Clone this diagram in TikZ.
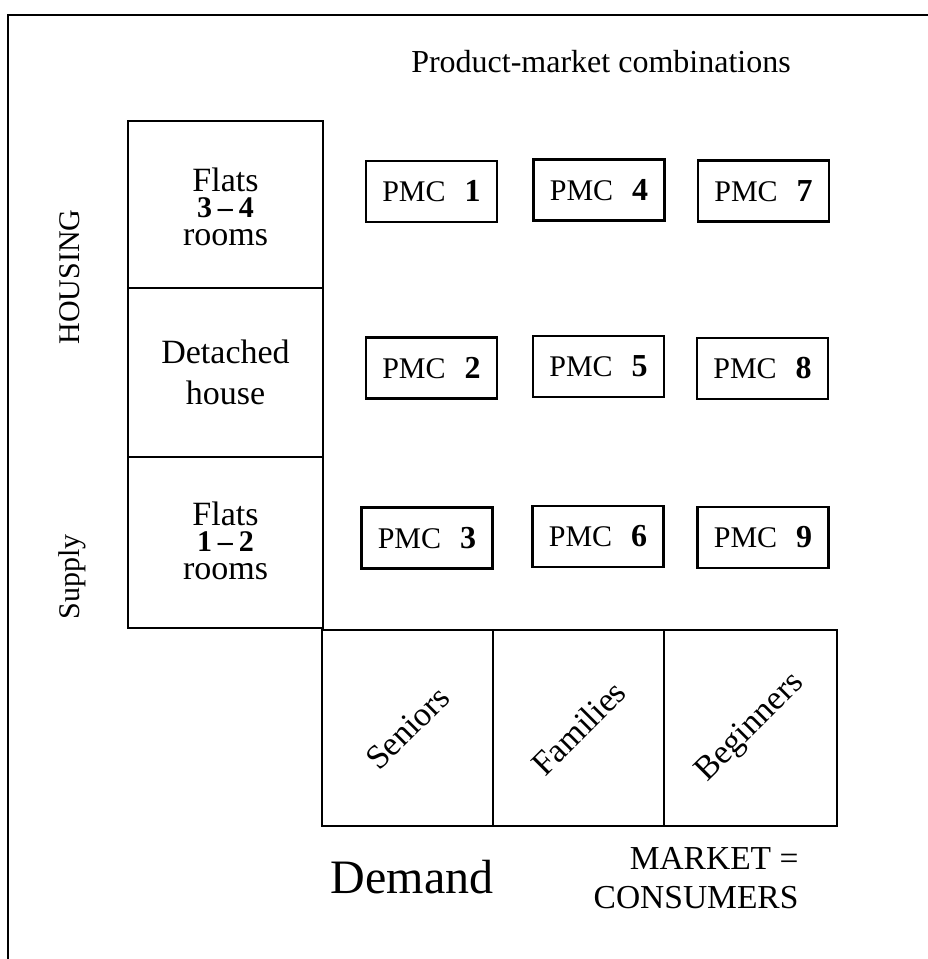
\documentclass[tikz,border=0pt]{standalone}
\usepackage{fontspec}
\setmainfont{Liberation Serif}
\newcommand{\pmcnum}[1]{\hspace{19pt}{\fontsize{32}{32}\selectfont\bfseries #1}}
\newcommand{\roomnum}[2]{{\fontsize{30}{30}\selectfont\bfseries #1\hspace{6pt}--\hspace{6pt}#2}}
\begin{document}
\begin{tikzpicture}[x=1pt,y=-1pt,
  frameline/.style={line width=2.8pt},
  cell/.style={draw, line width=2.6pt, inner sep=0pt, align=center},
  pmc/.style={draw, line width=2.6pt, minimum width=131pt, minimum height=61pt, inner sep=0pt,
    font=\fontsize{30}{30}\selectfont},
  sidetext/.style={font=\fontsize{34}{41}\selectfont, align=center},
  roomtext/.style={font=\fontsize{34}{30}\selectfont, align=center},
  diag/.style={rotate=45, font=\fontsize{34}{34}\selectfont},
  vert/.style={rotate=90, font=\fontsize{30}{30}\selectfont}]
\useasboundingbox (0,0) rectangle (928,959);
% frame (top and left)
\draw[frameline] (928,15) -- (8,15) -- (8,959);
% title
\node[font=\fontsize{32}{32}\selectfont, anchor=base] (title) at (601,72) {Product-market combinations};
% supply column
\node[cell, minimum width=195pt, minimum height=167pt] (s1) at (225.5,204.5) {};
\node[cell, minimum width=195pt, minimum height=169pt] (s2) at (225.5,372.5) {};
\node[cell, minimum width=195pt, minimum height=171pt] (s3) at (225.5,542.5) {};
\node[roomtext] (t1) at (225.5,207) {Flats\\[-4pt]\roomnum{3}{4}\\[-2pt]rooms};
\node[sidetext] (t2) at (225.5,372) {Detached\\house};
\node[roomtext] (t3) at (225.5,541) {Flats\\[-4pt]\roomnum{1}{2}\\[-2pt]rooms};
% vertical labels
\node[vert] (housing) at (70,277) {HOUSING};
\node[vert] (supply) at (72,577) {Supply};
% PMC grid
\node[pmc] (p1) at (431.5,191.5) {PMC\pmcnum{1}};
\node[pmc] (p2) at (431.5,368) {PMC\pmcnum{2}};
\node[pmc] (p3) at (427,538) {PMC\pmcnum{3}};
\node[pmc] (p4) at (599,190) {PMC\pmcnum{4}};
\node[pmc] (p5) at (598.5,366.5) {PMC\pmcnum{5}};
\node[pmc] (p6) at (598,536.5) {PMC\pmcnum{6}};
\node[pmc] (p7) at (763.5,191) {PMC\pmcnum{7}};
\node[pmc] (p8) at (762.5,368.5) {PMC\pmcnum{8}};
\node[pmc] (p9) at (763,537.5) {PMC\pmcnum{9}};
% demand row
\node[cell, minimum width=171pt, minimum height=196pt] (d1) at (407.5,728) {};
\node[cell, minimum width=171pt, minimum height=196pt] (d2) at (578.5,728) {};
\node[cell, minimum width=173pt, minimum height=196pt] (d3) at (750.5,728) {};
\node[diag] (l1) at (d1.center) {Seniors};
\node[diag] (l2) at (d2.center) {Families};
\node[diag] (l3) at (d3.center) {Beginners};
% bottom labels
\node[font=\fontsize{48}{48}\selectfont, anchor=base] (demand) at (412,893) {Demand};
\node[font=\fontsize{33.5}{39}\selectfont, align=right, anchor=base east] (market) at (802,908) {MARKET =\\CONSUMERS};
\end{tikzpicture}
\end{document}
